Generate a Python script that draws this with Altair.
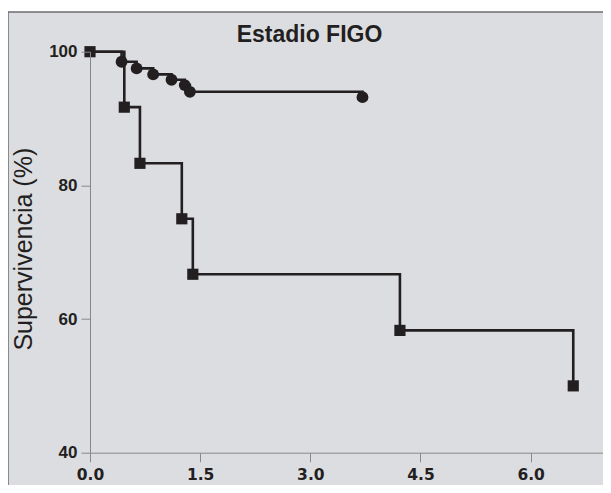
import altair as alt
import pandas as pd

# Series: circles (group 1) and squares (group 2), Kaplan-Meier steps
circ_t = [0.0, 0.43, 0.635, 0.86, 1.11, 1.29, 1.36, 3.71]
circ_s = [100.0, 98.5, 97.5, 96.6, 95.8, 95.0, 94.0, 93.2]
circ_mark = [False, True, True, True, True, True, True, True]

sq_t = [0.0, 0.467, 0.68, 1.25, 1.40, 4.22, 6.58]
sq_s = [100.0, 91.7, 83.3, 75.0, 66.7, 58.3, 50.0]
sq_mark = [True, True, True, True, True, True, True]

x_ticks = [0, 1.5, 3.0, 4.5, 6.0]
y_ticks = [40, 60, 80, 100]

INK = "#231f20"
GRAY = "#dcdde0"
FRAME = "#6d6e71"

circ = pd.DataFrame({"t": circ_t, "s": circ_s, "m": circ_mark})
sq = pd.DataFrame({"t": sq_t, "s": sq_s, "m": sq_mark})

xs = alt.Scale(domain=[0, 6.985], nice=False, zero=False)
ys = alt.Scale(domain=[40, 100], nice=False, zero=False)

xax = alt.Axis(values=x_ticks, format=".1f", title=None, grid=False, zindex=1,
               labelFont="DejaVu Sans", labelFontWeight="bold", labelFontSize=15.5,
               labelColor=INK, labelPadding=6, tickSize=9, labelFlush=False)
yax = alt.Axis(values=y_ticks, format="d", title="Supervivencia (%)", grid=False, zindex=1,
               labelFont="Liberation Sans", labelFontWeight="bold", labelFontSize=17,
               labelColor=INK, labelPadding=4, tickSize=9,
               titleFont="Liberation Sans", titleFontWeight="normal", titleFontSize=25,
               titleColor=INK, titleAngle=270, titleX=-59, titleY=197,
               titleBaseline="alphabetic", titleAlign="center")

bg = alt.Chart(pd.DataFrame({"a": [0]})).mark_rect(
    fill=GRAY, stroke=FRAME, strokeWidth=1.5
).encode(x=alt.value(-82), x2=alt.value(640), y=alt.value(-39.7), y2=alt.value(500))

def series(df, shape, size):
    line = alt.Chart(df).mark_line(interpolate="step-after", color=INK, strokeWidth=2.6).encode(
        x=alt.X("t:Q", scale=xs, axis=xax),
        y=alt.Y("s:Q", scale=ys, axis=yax),
    )
    pts = alt.Chart(df).transform_filter("datum.m").mark_point(
        shape=shape, filled=True, color=INK, size=size, opacity=1
    ).encode(
        x=alt.X("t:Q", scale=xs, axis=xax),
        y=alt.Y("s:Q", scale=ys, axis=yax),
    )
    return line, pts

cl, cp = series(circ, "circle", 140)
sl, sp = series(sq, "square", 125)

chart = alt.layer(bg, cl, sl, cp, sp).properties(
    width=513, height=401,
    autosize=alt.AutoSizeParams(type="none"),
    padding={"left": 82, "top": 43.7, "right": 0, "bottom": 32.3},
    title=alt.TitleParams("Estadio FIGO", font="Liberation Sans", fontSize=23,
                          fontWeight="bold", color=INK, anchor="middle", dx=-37,
                          baseline="alphabetic", offset=0, dy=54),
).configure_view(stroke=None).configure_axis(
    domainColor=INK, domainWidth=2.5, tickColor=INK, tickWidth=2.5
).configure(background="white")

chart.save("out.html", embed_options={"renderer": "svg", "actions": False})
